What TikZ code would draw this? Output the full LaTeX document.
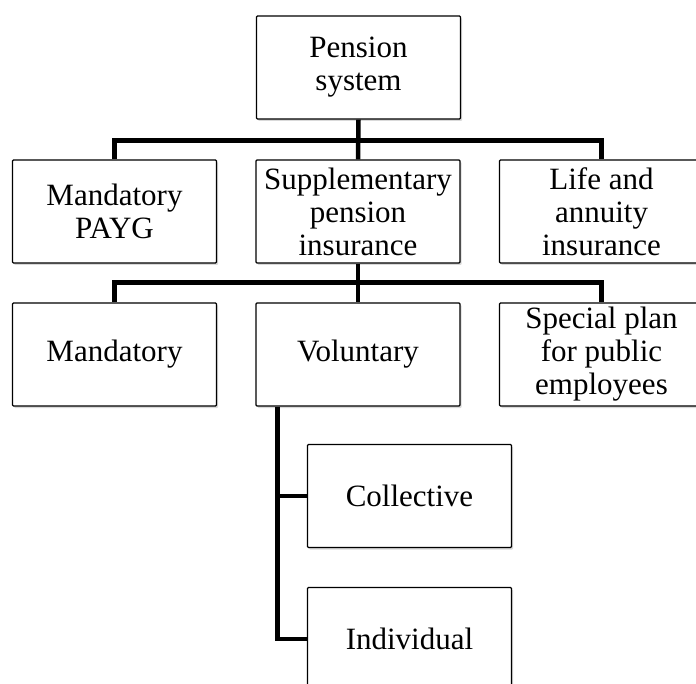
\documentclass[tikz,border=0pt]{standalone}
\usepackage{fontspec}
\setmainfont{Liberation Serif}
\usetikzlibrary{shadows}
\begin{document}
\begin{tikzpicture}[x=1pt,y=-1pt,
  box/.style={draw=black, line width=1.3pt, fill=white, minimum width=204pt, minimum height=103pt,
    align=center, inner sep=0pt, font=\fontsize{31}{33}\selectfont,
    drop shadow={shadow xshift=1.5pt,shadow yshift=-2pt,opacity=0.3}, rounded corners=1pt},
  conn/.style={line width=4.5pt}]
\useasboundingbox (0,0) rectangle (696,684);
\clip (0,0) rectangle (696,684);
\node[box] (ps) at (358.5,67.5) {Pension\\system};
\node[box] (mp) at (114.5,211.5) {Mandatory\\PAYG};
\node[box] (sp) at (358,211.5) {Supplementary\\pension\\insurance};
\node[box] (la) at (601.5,211.5) {Life and\\annuity\\insurance};
\node[box] (md) at (114.5,354.5) {Mandatory};
\node[box] (vo) at (358,354.5) {Voluntary};
\node[box] (spe) at (601.5,354.5) {Special plan\\for public\\employees};
\node[box] (co) at (409.5,496) {Collective};
\node[box] (in) at (409.5,639) {Individual};
\coordinate (vs) at ([xshift=22pt]vo.south west);
\draw[conn] (ps.south) -- (sp.north);
\draw[conn] (mp.north) -- ++(0,-19) -| (la.north);
\draw[conn] (sp.south) -- (vo.north);
\draw[conn] (md.north) -- ++(0,-20) -| (spe.north);
\draw[conn] (vs) |- (in.west);
\draw[conn] (co.west) -| (vs);
\end{tikzpicture}
\end{document}
